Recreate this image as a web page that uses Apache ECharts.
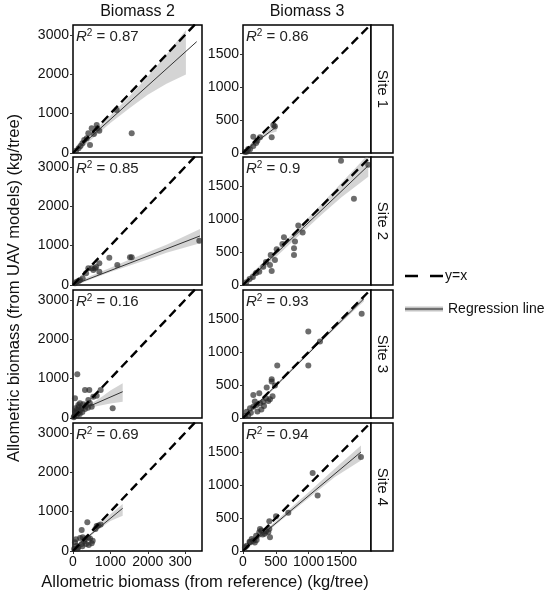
<!DOCTYPE html>
<html><head><meta charset="utf-8">
<script src="https://cdn.jsdelivr.net/npm/echarts@6/dist/echarts.min.js"></script>
<style>html,body{margin:0;padding:0;background:#fff}#c{width:550px;height:599px}</style>
</head><body><div id="c"></div><script>
const FONT = "'Liberation Sans', Arial, sans-serif";
const columns = ['Biomass 2', 'Biomass 3'];
const sites = ['Site 1', 'Site 2', 'Site 3', 'Site 4'];
const r2Values = [['0.87', '0.86'], ['0.85', '0.9'], ['0.16', '0.93'], ['0.69', '0.94']];
const xTitle = 'Allometric biomass (from reference) (kg/tree)';
const yTitle = 'Allometric biomass (from UAV models) (kg/tree)';
const legendNames = ['y=x', 'Regression line'];

const xTicksB2 = [0, 1000, 2000, 3000];
const xTickLabelsB2 = ['0', '1000', '2000', '300'];
const xTicksB3 = [0, 500, 1000, 1500];
const xTickLabelsB3 = ['0', '500', '1000', '1500'];
const yTicksB2 = [0, 1000, 2000, 3000];
const yTickLabelsB2 = ['0', '1000', '2000', '3000'];
const yTicksB3 = [0, 500, 1000, 1500];
const yTickLabelsB3 = ['0', '500', '1000', '1500'];
const xMaxB2 = 3450, yMaxB2 = 3250, xMaxB3 = 1950, yMaxB3 = 1940;

// ---- points (reference biomass, UAV biomass) ----
const s1b2X = [1570, 1168, 634, 650, 500, 704, 410, 366, 455, 250, 300, 150, 80, 200, 560];
const s1b2Y = [500, 1092, 711, 627, 627, 566, 500, 373, 203, 250, 330, 120, 60, 180, 480];
const s2b2X = [3378, 1570, 1524, 1185, 971, 704, 704, 588, 500, 410, 543, 259, 187, 99, 53, 350, 150, 620];
const s2b2Y = [1125, 704, 704, 508, 694, 551, 338, 424, 424, 424, 381, 170, 127, 84, 43, 300, 100, 460];
const s3b2X = [115, 1061, 321, 436, 740, 543, 634, 53, 410, 187, 276, 142, 500, 232, 321, 99, 53, 142, 350, 400, 250, 180, 100, 30, 60, 200, 150, 450, 90, 20];
const s3b2Y = [1110, 246, 711, 711, 711, 541, 566, 500, 457, 373, 348, 330, 287, 246, 229, 203, 160, 119, 320, 260, 150, 100, 80, 40, 250, 200, 280, 380, 120, 20];
const s4b2X = [383, 232, 740, 634, 677, 190, 260, 320, 400, 455, 500, 526, 53, 99, 142, 232, 300, 350, 80, 30, 120, 420, 250, 600];
const s4b2Y = [729, 533, 676, 635, 650, 330, 350, 300, 340, 320, 196, 262, 221, 135, 94, 178, 250, 180, 300, 50, 60, 150, 120, 560];
const s1b3X = [462, 487, 157, 259, 437, 218, 157, 107, 56, 30, 80, 200];
const s1b3Y = [426, 400, 248, 238, 238, 187, 106, 56, 20, 15, 60, 150];
const s2b3X = [1493, 1908, 1690, 842, 909, 624, 792, 777, 777, 513, 422, 487, 437, 309, 248, 411, 200, 150, 100, 50, 350, 600];
const s2b3Y = [1885, 1824, 1307, 901, 795, 725, 658, 557, 456, 543, 456, 380, 213, 278, 202, 304, 180, 120, 90, 40, 350, 620];
const s3b3X = [1808, 995, 995, 522, 1173, 437, 437, 361, 487, 248, 157, 411, 385, 309, 259, 208, 157, 107, 56, 30, 350, 280, 180, 120, 80, 220, 320, 450];
const s3b3Y = [1581, 1312, 795, 795, 1160, 588, 552, 461, 491, 375, 350, 284, 258, 248, 222, 198, 172, 147, 96, 30, 300, 130, 250, 80, 40, 100, 180, 330];
const s4b3X = [1797, 1061, 1137, 690, 503, 401, 401, 385, 411, 259, 248, 132, 157, 208, 107, 56, 30, 300, 350, 100, 200, 280, 330, 180];
const s4b3Y = [1424, 1181, 841, 578, 527, 451, 334, 284, 208, 334, 284, 182, 157, 167, 132, 81, 56, 250, 300, 140, 230, 310, 260, 130];

// ---- fitted regression lines ----
const s1b2Reg = [[0, 0], [3308, 2827]];
const s2b2Reg = [[0, 0], [3396, 1245]];
const s3b2Reg = [[0, 116], [1329, 668]];
const s4b2Reg = [[0, 51], [1329, 1085]];
const s1b3Reg = [[0, 16], [513, 400]];
const s2b3Reg = [[0, 0], [1908, 1809]];
const s3b3Reg = [[0, 0], [1843, 1809]];
const s4b3Reg = [[0, 5], [1797, 1500]];

// ---- confidence bands [x, lower, upper] ----
const s1b2Band = [[100, 0, 170], [500, 350, 505], [1000, 760, 950], [1500, 1130, 1430], [2000, 1480, 1940], [2500, 1760, 2500], [3020, 1990, 3120]];
const s2b2Band = [[100, 0, 80], [500, 150, 240], [1000, 330, 440], [1500, 490, 640], [2000, 650, 830], [2500, 820, 1020], [3396, 1060, 1420]];
const s3b2Band = [[20, 60, 180], [200, 160, 240], [400, 240, 320], [600, 290, 430], [800, 330, 560], [1000, 370, 700], [1329, 414, 880]];
const s4b2Band = [[20, 20, 80], [200, 170, 240], [400, 330, 390], [600, 480, 560], [800, 620, 740], [1000, 760, 930], [1329, 897, 1194]];
const s1b3Band = [[20, 0, 60], [150, 100, 150], [300, 220, 280], [400, 290, 370], [513, 324, 451]];
const s2b3Band = [[100, 30, 150], [400, 330, 430], [800, 700, 820], [1200, 1070, 1230], [1500, 1330, 1550], [1908, 1640, 1980]];
const s3b3Band = [[30, -10, 40], [500, 470, 510], [1000, 965, 1010], [1500, 1450, 1520], [1843, 1770, 1860]];
const s4b3Band = [[30, 0, 50], [300, 230, 280], [600, 480, 540], [1000, 800, 890], [1400, 1120, 1250], [1797, 1372, 1600]];

const panels = [
  [s1b2X, s1b2Y, s1b2Reg, s1b2Band], [s1b3X, s1b3Y, s1b3Reg, s1b3Band],
  [s2b2X, s2b2Y, s2b2Reg, s2b2Band], [s2b3X, s2b3Y, s2b3Reg, s2b3Band],
  [s3b2X, s3b2Y, s3b2Reg, s3b2Band], [s3b3X, s3b3Y, s3b3Reg, s3b3Band],
  [s4b2X, s4b2Y, s4b2Reg, s4b2Band], [s4b3X, s4b3Y, s4b3Reg, s4b3Band]
];

// layout
const colLeft = [73, 243], colWidth = [129, 128];
const rowTop = [25, 157, 290, 423], rowHeight = 128;
const stripX = 371, stripW = 22;

const grids = [], xAxes = [], yAxes = [], series = [], graphics = [];
const labelColor = '#111';

for (let r = 0; r < 4; r++) {
  for (let c = 0; c < 2; c++) {
    const i = r * 2 + c;
    const [px, py, reg, band] = panels[i];
    const xMax = c === 0 ? xMaxB2 : xMaxB3;
    const yMax = c === 0 ? yMaxB2 : yMaxB3;
    const xTicks = c === 0 ? xTicksB2 : xTicksB3;
    const xLabels = c === 0 ? xTickLabelsB2 : xTickLabelsB3;
    const yTicks = c === 0 ? yTicksB2 : yTicksB3;
    const yLabels = c === 0 ? yTickLabelsB2 : yTickLabelsB3;
    grids.push({
      left: colLeft[c], top: rowTop[r], width: colWidth[c], height: rowHeight,
      show: true, borderColor: '#000', borderWidth: 1.5, backgroundColor: '#fff',
      containLabel: false, outerBoundsMode: 'none'
    });
    const bottomRow = r === 3;
    xAxes.push({
      type: 'value', gridIndex: i, min: 0, max: xMax,
      axisLine: { show: false },
      splitLine: { show: false },
      axisTick: { show: bottomRow, length: 3, customValues: xTicks, lineStyle: { color: '#333', width: 1 } },
      axisLabel: {
        show: bottomRow, customValues: xTicks, margin: 4,
        color: labelColor, fontSize: 14, fontFamily: FONT,
        formatter: (v) => {
          const k = xTicks.indexOf(v);
          const t = k >= 0 ? xLabels[k] : '';
          return (c === 0 && v === 3000) ? '{cut|' + t + '}' : t;
        },
        rich: { cut: { fontSize: 14, fontFamily: FONT, color: labelColor, padding: [0, 10, 0, 0] } }
      }
    });
    yAxes.push({
      type: 'value', gridIndex: i, min: 0, max: yMax,
      axisLine: { show: false },
      splitLine: { show: false },
      axisTick: { show: true, length: 3, customValues: yTicks, lineStyle: { color: '#333', width: 1 } },
      axisLabel: {
        show: true, customValues: yTicks, margin: 4,
        color: labelColor, fontSize: 14, fontFamily: FONT,
        formatter: (v) => { const k = yTicks.indexOf(v); return k >= 0 ? yLabels[k] : ''; }
      }
    });
    // band
    series.push({
      type: 'custom', xAxisIndex: i, yAxisIndex: i, clip: true, silent: true, z: 1,
      data: band,
      renderItem: (params, api) => {
        if (params.dataIndex !== 0) return null;
        const pts = [];
        for (let k = 0; k < band.length; k++) pts.push(api.coord([band[k][0], band[k][2]]));
        for (let k = band.length - 1; k >= 0; k--) pts.push(api.coord([band[k][0], band[k][1]]));
        return { type: 'polygon', shape: { points: pts }, style: { fill: 'rgba(153,153,153,0.42)' } };
      }
    });
    // points
    series.push({
      type: 'scatter', xAxisIndex: i, yAxisIndex: i, z: 2, silent: true,
      data: px.map((x, k) => [x, py[k]]),
      symbolSize: 6,
      itemStyle: { color: 'rgba(40,40,40,0.85)' }
    });
    // regression line
    series.push({
      name: legendNames[1],
      type: 'line', xAxisIndex: i, yAxisIndex: i, z: 3, silent: true,
      data: reg, symbol: 'none', clip: true,
      lineStyle: { color: '#333', width: 1 }
    });
    // y = x
    series.push({
      name: legendNames[0],
      type: 'line', xAxisIndex: i, yAxisIndex: i, z: 4, silent: true,
      data: [[0, 0], [xMax, xMax]], symbol: 'none', clip: true,
      lineStyle: { color: '#000', width: 2.4, type: [9, 5] }
    });
    // R^2 label
    graphics.push({
      type: 'text', x: colLeft[c] + 3, y: rowTop[r] + 3, z: 10,
      style: {
        text: '{i|R}{s|2}{n| = ' + r2Values[r][c] + '}',
        rich: {
          i: { fontSize: 15, fontStyle: 'italic', fontFamily: FONT, fill: '#222', lineHeight: 17 },
          s: { fontSize: 10, fontFamily: FONT, fill: '#222', verticalAlign: 'top', lineHeight: 17 },
          n: { fontSize: 15, fontFamily: FONT, fill: '#222', lineHeight: 17 }
        }
      }
    });
  }
  // strip
  graphics.push({
    type: 'rect', z: 5,
    shape: { x: stripX, y: rowTop[r], width: stripW, height: rowHeight },
    style: { fill: '#fff', stroke: '#000', lineWidth: 1.5 }
  });
  graphics.push({
    type: 'text', z: 6, x: stripX + stripW / 2, y: rowTop[r] + rowHeight / 2, rotation: -Math.PI / 2,
    style: { text: sites[r], fontSize: 15, fontFamily: FONT, fill: '#111', align: 'center', verticalAlign: 'middle' }
  });
}

// column headers
for (let c = 0; c < 2; c++) {
  graphics.push({
    type: 'text', x: colLeft[c] + colWidth[c] / 2, y: 12,
    style: { text: columns[c], fontSize: 16, fontFamily: FONT, fill: '#111', align: 'center', verticalAlign: 'middle' }
  });
}
// axis titles
graphics.push({
  type: 'text', x: 205, y: 582,
  style: { text: xTitle, fontSize: 16.5, fontFamily: FONT, fill: '#111', align: 'center', verticalAlign: 'middle' }
});
graphics.push({
  type: 'text', x: 14, y: 288, rotation: Math.PI / 2,
  style: { text: yTitle, fontSize: 16.5, fontFamily: FONT, fill: '#111', align: 'center', verticalAlign: 'middle' }
});
// legend
graphics.push({ type: 'line', shape: { x1: 405, y1: 276, x2: 443, y2: 276 }, style: { stroke: '#000', lineWidth: 2.5, lineDash: [13, 12] } });
graphics.push({ type: 'text', x: 445, y: 276, style: { text: legendNames[0], fontSize: 14, fontFamily: FONT, fill: '#111', align: 'left', verticalAlign: 'middle' } });
graphics.push({ type: 'line', shape: { x1: 405, y1: 309, x2: 443, y2: 309 }, style: { stroke: '#c4c4c4', lineWidth: 5 } });
graphics.push({ type: 'line', shape: { x1: 405, y1: 309, x2: 443, y2: 309 }, style: { stroke: '#555', lineWidth: 1.5 } });
graphics.push({ type: 'text', x: 448, y: 309, style: { text: legendNames[1], fontSize: 14, fontFamily: FONT, fill: '#111', align: 'left', verticalAlign: 'middle' } });

const chart = echarts.init(document.getElementById('c'), null, { renderer: 'canvas' });
chart.setOption({
  animation: false,
  backgroundColor: '#fff',
  textStyle: { fontFamily: FONT },
  grid: grids, xAxis: xAxes, yAxis: yAxes, series: series, graphic: graphics
});
</script></body></html>
